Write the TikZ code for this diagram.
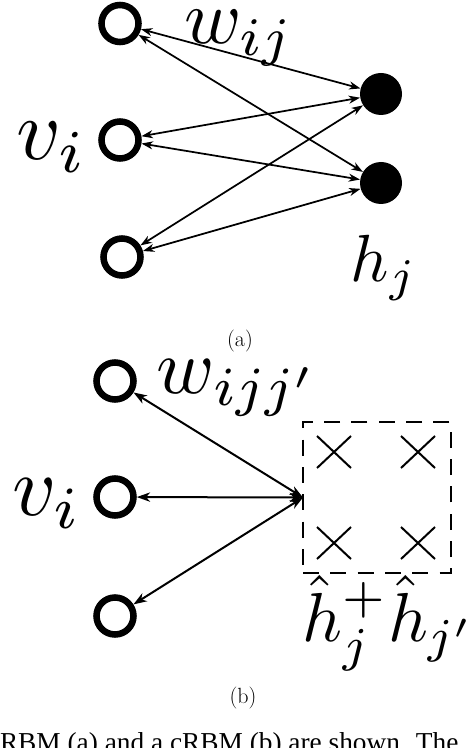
\documentclass[tikz,border=0pt]{standalone}
\usepackage{fontspec}
\newfontfamily\capfont{Liberation Serif}
\usetikzlibrary{arrows.meta,shapes.misc}
\tikzset{
  vis/.style={circle,draw,line width=4.9pt,minimum size=27.75pt,inner sep=0pt},
  hid/.style={circle,fill=black,minimum size=31.5pt,inner sep=0pt},
  link/.style={line width=1.3pt,{Stealth[length=8.5pt,width=6pt,inset=2.6pt]}-{Stealth[length=8.5pt,width=6pt,inset=2.6pt]}},
  linkb/.style={line width=1.5pt,{Stealth[length=10pt,width=7pt,inset=3pt]}-{Stealth[length=10pt,width=7pt,inset=3pt]}},
  lbl/.style={inner sep=0pt,outer sep=0pt},
  xmark/.style={cross out,draw,line width=1.5pt,minimum width=24pt,minimum height=22.5pt,inner sep=0pt},
  dbox/.style={draw,line width=2.2pt,dash pattern=on 12pt off 8.5pt,minimum width=111pt,minimum height=113.25pt,inner sep=0pt,outer sep=0pt}
}
\begin{document}
\begin{tikzpicture}[x=0.75pt,y=-0.75pt]
\useasboundingbox (0,0) rectangle (472,748);
\clip (0,0) rectangle (472,748);
% (a)
\node[vis] (av1) at (120,23.5) {};
\node[vis] (av2) at (120,140) {};
\node[vis] (av3) at (122,257) {};
\node[hid] (ah1) at (381,94) {};
\node[hid] (ah2) at (381,183) {};
\foreach \v in {av1,av2,av3}{
  \foreach \h in {ah1,ah2}{
    \draw[link] (\v) -- (\h);
  }
}
\node[lbl] (aw) at (239,38) {\scalebox{5.8}{$w_{ij}$}};
\node[lbl] (avl) at (52,147) {\scalebox{6.5}{$v_i$}};
\node[lbl] (ahl) at (384,268) {\scalebox{5.0}{$h_j$}};
\node[lbl] (acap) at (240,341) {\fontsize{16.5}{18}\selectfont (a)};
% (b)
\node[vis] (bv1) at (115,381) {};
\node[vis] (bv2) at (115,497) {};
\node[vis] (bv3) at (115,616) {};
\node[dbox] (box) at (377,497.5) {};
\node[xmark] (x1) at (334,452) {};
\node[xmark] (x2) at (418,452) {};
\node[xmark] (x3) at (334,543) {};
\node[xmark] (x4) at (418,543) {};
\foreach \v in {bv1,bv2,bv3}{
  \draw[linkb] (\v) -- (box.west);
}
\node[lbl] (bw) at (238,388) {\scalebox{5.9}{$w_{ijj'}$}};
\node[lbl] (bvl) at (47,504) {\scalebox{6.4}{$v_i$}};
\node[lbl] (bhl) at (389,623) {\scalebox{5.2}{$\hat{h}_j^{+}\hat{h}_{j'}$}};
\node[lbl] (bcap) at (243,698) {\fontsize{16.5}{18}\selectfont (b)};
% cut caption
\node[lbl,anchor=base west] (cap) at (0,751.5) {\capfont\fontsize{20.5}{22}\selectfont RBM (a) and a cRBM (b) are shown. The};
\end{tikzpicture}
\end{document}
